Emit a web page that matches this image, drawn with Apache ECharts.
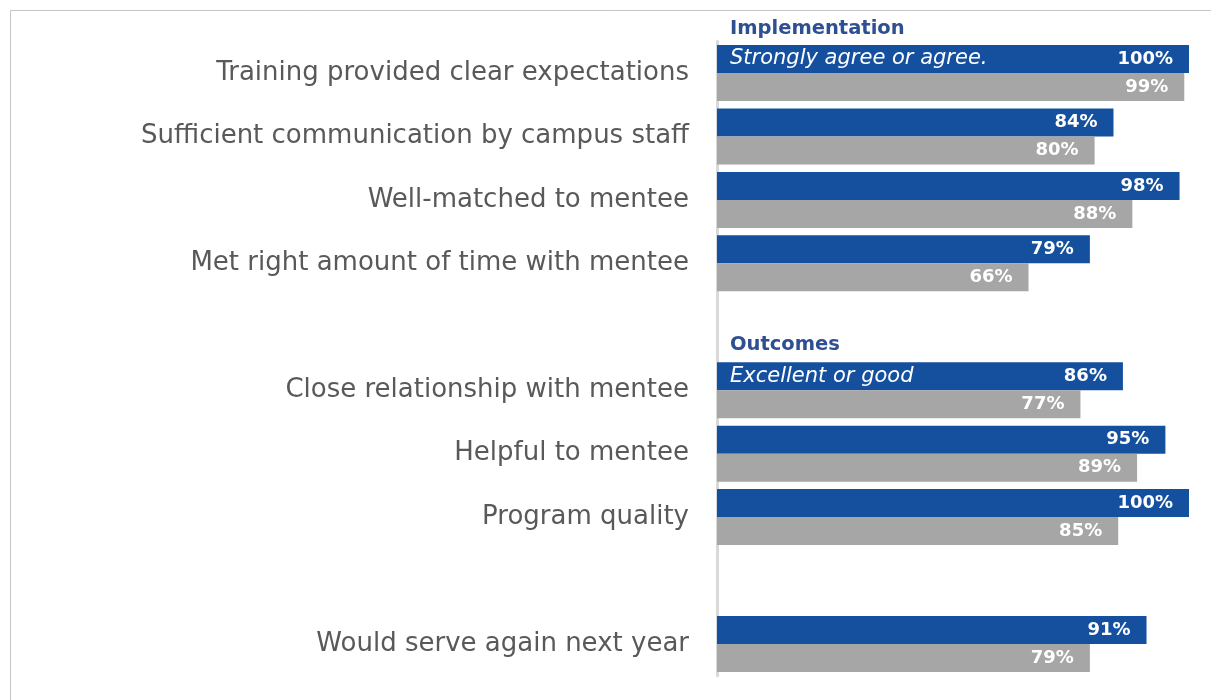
<!DOCTYPE html>
<html>
<head>
<meta charset="utf-8">
<script src="https://cdn.jsdelivr.net/npm/echarts@6/dist/echarts.min.js"></script>
<style>
  html, body { margin: 0; padding: 0; background: #fff; }
  #chart { width: 1211px; height: 700px; }
</style>
</head>
<body>
<div id="chart"></div>
<script>
// rows, with two empty ones to space the groups
const categories = [
  'Training provided clear expectations',
  'Sufficient communication by campus staff',
  'Well-matched to mentee',
  'Met right amount of time with mentee',
  '',
  'Close relationship with mentee',
  'Helpful to mentee',
  'Program quality',
  ' ',
  'Would serve again next year'
]
const blueValues = [100, 84, 98, 79, null, 86, 95, 100, null, 91]
const greyValues = [99, 80, 88, 66, null, 77, 89, 85, null, 79]
const notes = [
  { row: 'Training provided clear expectations', text: 'Strongly agree or agree.' },
  { row: 'Close relationship with mentee', text: 'Excellent or good' }
]

const chart = echarts.init(document.getElementById('chart'))

const FONT = 'DejaVu Sans'
const valueLabel = {
  show: true,
  position: 'insideRight',
  distance: 16,
  color: '#fff',
  fontFamily: FONT,
  fontSize: 18,
  fontWeight: 'bold',
  formatter: p => p.value == null ? '' : p.value + '%'
}

chart.setOption({
  animation: false,
  title: [
    {
      text: 'Implementation',
      left: 725, top: 14,
      textStyle: { color: '#2F4F93', fontFamily: FONT, fontSize: 19.5, fontWeight: 'bold' }
    },
    {
      text: 'Outcomes',
      left: 725, top: 330,
      textStyle: { color: '#2F4F93', fontFamily: FONT, fontSize: 19.5, fontWeight: 'bold' }
    }
  ],
  graphic: [
    {
      type: 'rect',
      shape: { x: 10.5, y: 10.5, width: 1300, height: 800 },
      style: { fill: 'none', stroke: '#c4c4c4', lineWidth: 1 },
      silent: true
    }
  ],
  grid: { left: 717, right: 22, top: 41.3, bottom: 24.3 },
  xAxis: {
    type: 'value',
    min: 0,
    max: 100,
    show: false
  },
  yAxis: {
    type: 'category',
    inverse: true,
    data: categories,
    axisLine: { lineStyle: { color: '#d9d9d9', width: 3 } },
    axisTick: { show: false },
    axisLabel: {
      margin: 28,
      color: '#595959',
      fontFamily: FONT,
      fontSize: 26
    },
    splitLine: { show: false }
  },
  series: [
    {
      name: 'Blue',
      type: 'bar',
      data: blueValues,
      barWidth: 28,
      barGap: '0%',
      itemStyle: { color: '#15509F' },
      label: valueLabel,
      markPoint: {
        symbol: 'circle',
        symbolSize: 0,
        label: {
          show: true,
          position: 'right',
          distance: 13,
          color: '#fff',
          fontFamily: FONT,
          fontSize: 21,
          fontStyle: 'italic',
          formatter: p => p.name
        },
        data: notes.map(n => ({ name: n.text, coord: [0, n.row] }))
      }
    },
    {
      name: 'Grey',
      type: 'bar',
      data: greyValues,
      barWidth: 28,
      itemStyle: { color: '#A6A6A6' },
      label: valueLabel
    }
  ]
})
</script>
</body>
</html>
